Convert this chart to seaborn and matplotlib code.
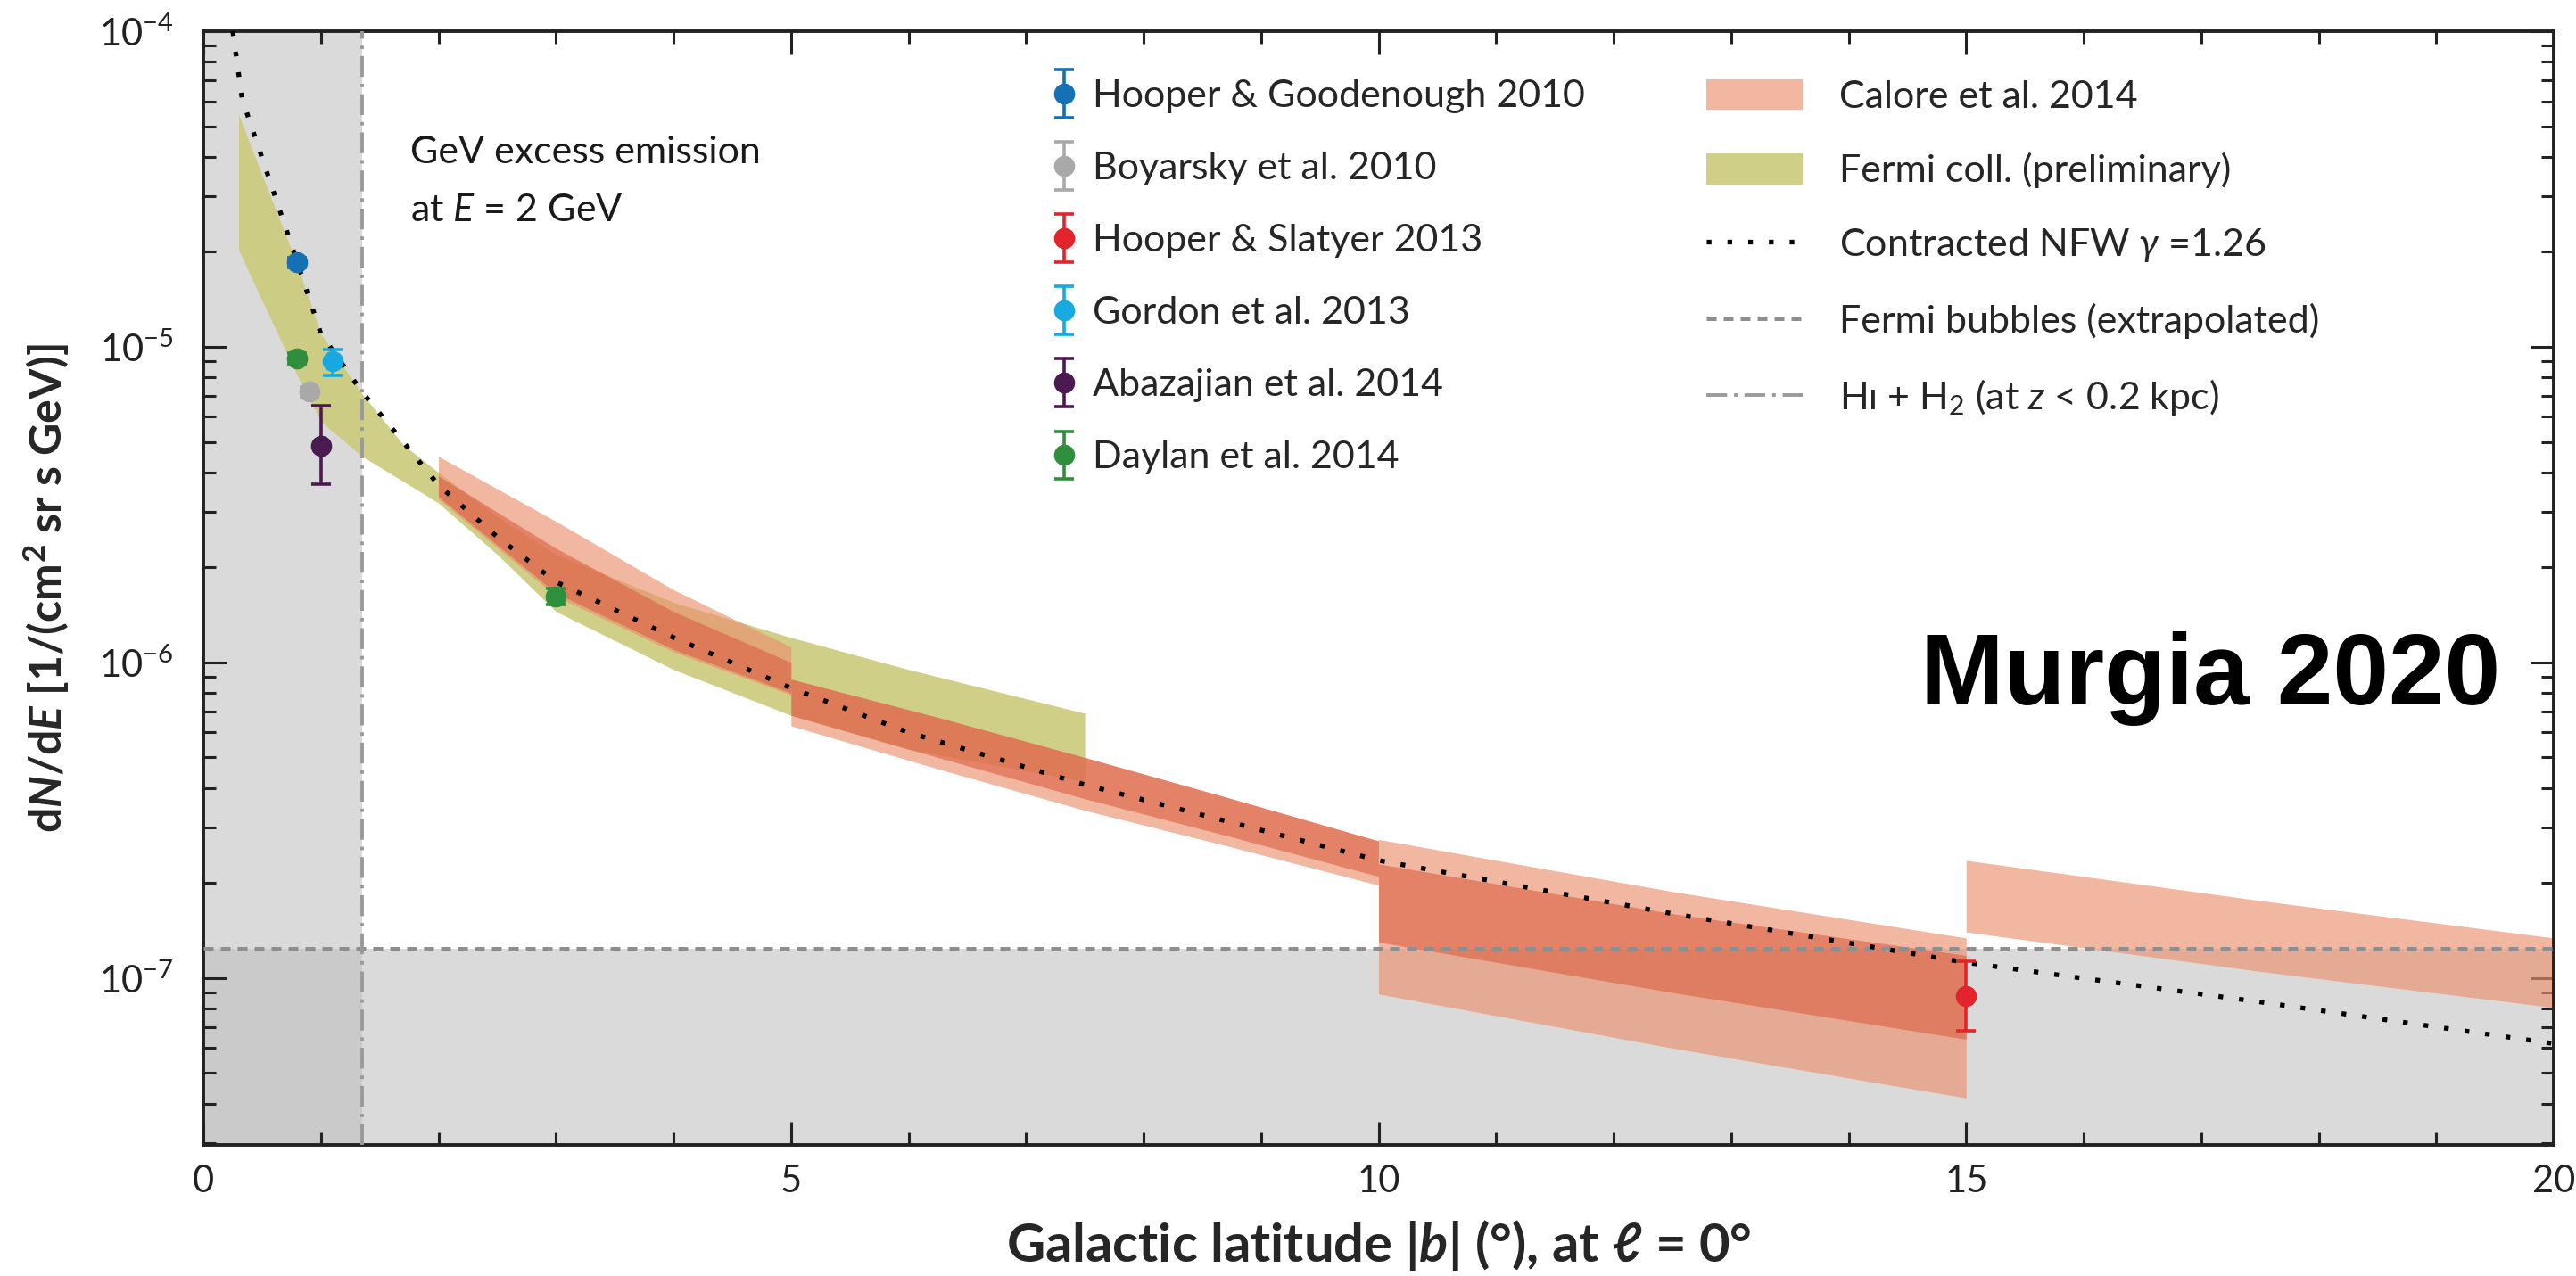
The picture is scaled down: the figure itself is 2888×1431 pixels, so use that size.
import numpy as np
import pandas as pd
import matplotlib
matplotlib.use("Agg")
import matplotlib.pyplot as plt
import seaborn as sns
from matplotlib import font_manager
from matplotlib.lines import Line2D
from matplotlib.patches import Patch
from matplotlib.container import ErrorbarContainer
from matplotlib.legend_handler import HandlerErrorbar
from matplotlib.ticker import FixedLocator, LogLocator, NullFormatter, LogFormatterMathtext

# ---------------- data ----------------
# Contracted NFW gamma=1.26 (dotted line)
nfw_b = [0.25, 0.33, 0.45, 0.61, 0.80, 1.00, 1.35, 1.70, 2.0, 2.5, 3.0, 4.0, 5.0, 6.0, 7.5, 10.0, 12.5, 15.0, 17.5, 20.0]
nfw_flux = [1.0e-4, 6.1e-5, 4.5e-5, 3.0e-5, 1.85e-5, 1.1e-5, 7.2e-6, 5.0e-6, 3.65e-6, 2.5e-6, 1.8e-6,
            1.2e-6, 8.3e-7, 6.0e-7, 4.1e-7, 2.36e-7, 1.6e-7, 1.12e-7, 8.4e-8, 6.2e-8]

# Fermi coll. (preliminary) band
fermi_b = [0.3, 0.5, 0.78, 1.0, 1.35, 1.7, 2.0, 2.5, 3.0, 4.0, 5.0, 6.0, 7.5]
fermi_hi = [5.45e-5, 3.5e-5, 1.9e-5, 1.1e-5, 7.1e-6, 4.9e-6, 4.0e-6, 2.9e-6, 2.2e-6, 1.55e-6, 1.2e-6, 9.5e-7, 6.9e-7]
fermi_lo = [2.03e-5, 1.4e-5, 8.4e-6, 5.8e-6, 4.5e-6, 3.75e-6, 3.2e-6, 2.2e-6, 1.45e-6, 9.5e-7, 6.8e-7, 5.3e-7, 4.2e-7]

# Calore et al. 2014 bands (outer = light, inner = dark), four latitude segments
cal1_b = [2.0, 3.0, 4.0, 5.0]
cal1_out_hi = [4.5e-6, 2.8e-6, 1.7e-6, 1.12e-6]
cal1_out_lo = [3.3e-6, 1.62e-6, 1.08e-6, 7.9e-7]
cal1_in_hi = [3.9e-6, 2.3e-6, 1.45e-6, 1.0e-6]
cal1_in_lo = [3.35e-6, 1.66e-6, 1.1e-6, 8.0e-7]

cal2_b = [5.0, 6.25, 7.5, 8.75, 10.0]
cal2_out_hi = [8.85e-7, 6.7e-7, 5.0e-7, 3.7e-7, 2.72e-7]
cal2_out_lo = [6.3e-7, 4.6e-7, 3.4e-7, 2.6e-7, 1.97e-7]
cal2_in_hi = [8.85e-7, 6.7e-7, 5.0e-7, 3.7e-7, 2.72e-7]
cal2_in_lo = [6.8e-7, 5.0e-7, 3.7e-7, 2.8e-7, 2.1e-7]

cal3_b = [10.0, 12.5, 15.0]
cal3_out_hi = [2.75e-7, 1.88e-7, 1.34e-7]
cal3_out_lo = [8.9e-8, 6.0e-8, 4.17e-8]
cal3_in_hi = [2.3e-7, 1.6e-7, 1.18e-7]
cal3_in_lo = [1.3e-7, 9.0e-8, 6.4e-8]

cal4_b = [15.0, 17.5, 20.0]
cal4_hi = [2.36e-7, 1.76e-7, 1.34e-7]
cal4_lo = [1.40e-7, 1.05e-7, 8.07e-8]

# data points: label, b, flux, err_low, err_high
pt_labels = ["Hooper & Goodenough 2010", "Boyarsky et al. 2010", "Hooper & Slatyer 2013",
             "Gordon et al. 2013", "Abazajian et al. 2014", "Daylan et al. 2014"]
pt_b = [[0.80], [0.90], [15.0], [1.10], [1.00], [0.80, 3.0]]
pt_flux = [[1.85e-5], [7.2e-6], [8.8e-8], [9.0e-6], [4.86e-6], [9.2e-6, 1.62e-6]]
pt_err_lo = [[0.07e-5], [0.25e-6], [2.0e-8], [0.9e-6], [1.19e-6], [0.35e-6, 0.09e-6]]
pt_err_hi = [[0.07e-5], [0.25e-6], [2.5e-8], [0.8e-6], [1.64e-6], [0.35e-6, 0.09e-6]]
pt_colors = ["#1570b4", "#a9a9a9", "#e2242c", "#19a9e1", "#4b1a50", "#2f8f3c"]

# reference levels
gas_b = 1.35            # H I + H2 boundary (vertical)
bubbles_flux = 1.24e-7  # Fermi bubbles (horizontal)

# ---------------- style ----------------
sns.set_theme(style="ticks")
plt.rcParams["font.family"] = ["Lato", "DejaVu Sans"]
plt.rcParams["mathtext.fontset"] = "custom"
plt.rcParams["mathtext.rm"] = "Lato"
plt.rcParams["mathtext.it"] = "Lato:italic"
plt.rcParams["mathtext.bf"] = "Lato:bold"
try:
    plt.rcParams["mathtext.bfit"] = "Lato:italic:bold"
except KeyError:
    pass
plt.rcParams["axes.linewidth"] = 1.4
plt.rcParams["axes.edgecolor"] = "#222222"

W, H, DPI = 2888, 1431, 200
fig = plt.figure(figsize=(W / DPI, H / DPI), dpi=DPI)
ax = fig.add_axes([228 / W, 1 - 1284 / H, (2863 - 228) / W, (1284 - 35) / H])
ax.set_yscale("log")
ax.set_xlim(0, 20)
ax.set_ylim(2.96e-8, 1e-4)

# grey shaded regions
gray = "#bdbdbd"
ax.axvspan(0, gas_b, color=gray, alpha=0.55, lw=0, zorder=0)
ax.axhspan(1e-9, bubbles_flux, color=gray, alpha=0.55, lw=0, zorder=0)

# Fermi band
olive = "#cccb7e"
ax.fill_between(fermi_b, fermi_lo, fermi_hi, color=olive, alpha=0.92, lw=0, zorder=1)

# Calore bands
c_out = "#eb916e"
c_in = "#db5f44"
for b, lo, hi in [(cal1_b, cal1_out_lo, cal1_out_hi), (cal2_b, cal2_out_lo, cal2_out_hi),
                  (cal3_b, cal3_out_lo, cal3_out_hi), (cal4_b, cal4_lo, cal4_hi)]:
    ax.fill_between(b, lo, hi, color=c_out, alpha=0.65, lw=0, zorder=2)
for b, lo, hi in [(cal1_b, cal1_in_lo, cal1_in_hi), (cal2_b, cal2_in_lo, cal2_in_hi),
                  (cal3_b, cal3_in_lo, cal3_in_hi)]:
    ax.fill_between(b, lo, hi, color=c_in, alpha=0.6, lw=0, zorder=3)

# reference lines
ax.axhline(bubbles_flux, color="#8e8e8e", lw=1.8, ls=(0, (2.2, 1.6)), zorder=4)
ax.axvline(gas_b, color="#9a9a9a", lw=1.4, ls=(0, (6, 2, 1, 2)), zorder=4)

# NFW dotted line via seaborn
nfw_df = pd.DataFrame({"b": nfw_b, "flux": nfw_flux})
sns.lineplot(data=nfw_df, x="b", y="flux", ax=ax, color="black", lw=1.9,
             linestyle=(0, (1, 3.4)), legend=False, sort=False, errorbar=None, zorder=5)

# data points
containers = []
for lab, bb, ff, elo, ehi, col in zip(pt_labels, pt_b, pt_flux, pt_err_lo, pt_err_hi, pt_colors):
    c = ax.errorbar(bb, ff, yerr=[elo, ehi], fmt="o", color=col, ms=7.5, elinewidth=1.3,
                    capsize=4, capthick=1.3, zorder=6, label=lab)
    containers.append(c)

# axes styling
ax.xaxis.set_major_locator(FixedLocator([0, 5, 10, 15, 20]))
ax.xaxis.set_minor_locator(FixedLocator([i for i in range(21) if i % 5]))
ax.yaxis.set_major_locator(LogLocator(base=10, numticks=10))
ax.yaxis.set_minor_locator(LogLocator(base=10, subs=np.arange(2, 10), numticks=20))
ax.yaxis.set_major_formatter(LogFormatterMathtext())
ax.yaxis.set_minor_formatter(NullFormatter())
ax.tick_params(which="both", direction="in", top=True, right=True, colors="#222222",
               labelsize=15, width=1.1)
ax.tick_params(which="major", length=9.5)
ax.tick_params(which="minor", length=5)
ax.tick_params(axis="x", which="major", pad=8)
ax.tick_params(axis="y", which="major", pad=12)
for sp in ax.spines.values():
    sp.set_visible(True)

ax.set_xlabel(r"Galactic latitude |$\mathbfit{b}$| (°), at ℓ = 0°", fontsize=21.5, fontweight="bold")
ax.set_ylabel(r"d$\mathbfit{N}$/d$\mathbfit{E}$ [1/(cm$^\mathbf{2}$ sr s GeV)]", fontsize=18, fontweight="bold")
ax.xaxis.set_label_coords(0.5, -0.066)
ax.yaxis.set_label_coords(-0.056, 0.5)

# annotation
fig.text(460 / W, 1 - 183 / H, "GeV excess emission", fontsize=15.5,
         va="baseline", ha="left", color="#1a1a1a")
fig.text(460 / W, 1 - 248 / H, "at $E$ = 2 GeV", fontsize=15.5,
         va="baseline", ha="left", color="#1a1a1a")

names = {f.name for f in font_manager.fontManager.ttflist}
if "Liberation Sans Narrow" in names:
    m_family, m_size = ["Liberation Sans Narrow"], 48
else:
    m_family, m_size = ["Liberation Sans", "DejaVu Sans"], 40.5
fig.text(2803 / W, 1 - 790 / H, "Murgia 2020", fontsize=m_size, fontweight="bold",
         family=m_family, ha="right", va="baseline", color="black")

# legends
leg1 = ax.legend(handles=containers, labels=pt_labels, loc="upper left",
                 bbox_to_anchor=(1171 / W, 1 - 89 / H), bbox_transform=fig.transFigure,
                 frameon=False, fontsize=15.5, borderpad=0, borderaxespad=0,
                 handlelength=1.0, handletextpad=0.25, labelspacing=1.0,
                 handler_map={ErrorbarContainer: HandlerErrorbar(yerr_size=0.62)})
ax.add_artist(leg1)
h2 = [Patch(facecolor=c_out, alpha=0.65, lw=0),
      Patch(facecolor=olive, alpha=0.92, lw=0),
      Line2D([], [], color="black", lw=1.9, ls=(0, (1, 3.4))),
      Line2D([], [], color="#8e8e8e", lw=1.8, ls=(0, (2.2, 1.6))),
      Line2D([], [], color="#9a9a9a", lw=1.4, ls=(0, (6, 2, 1, 2)))]
l2 = ["Calore et al. 2014", "Fermi coll. (preliminary)", r"Contracted NFW $\gamma$ =1.26",
      "Fermi bubbles (extrapolated)", "Hɪ + H$_2$ (at $z$ < 0.2 kpc)"]
leg2 = ax.legend(handles=h2, labels=l2, loc="upper left",
                 bbox_to_anchor=(1913 / W, 1 - 89 / H), bbox_transform=fig.transFigure,
                 frameon=False, fontsize=15.5, borderpad=0, borderaxespad=0,
                 handlelength=2.5, handleheight=0.85, handletextpad=0.95, labelspacing=1.0)

fig.savefig("out.png", dpi=DPI, facecolor="white")
